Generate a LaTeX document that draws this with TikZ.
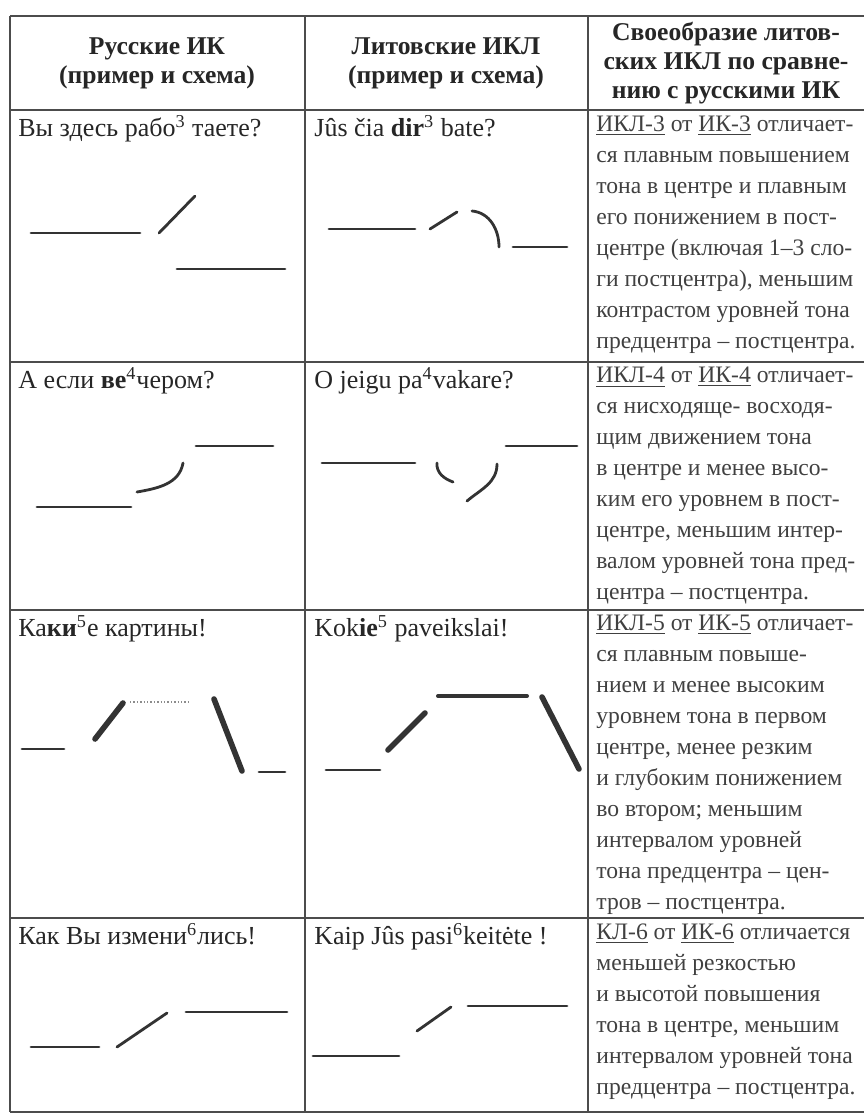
\documentclass[tikz,border=0pt]{standalone}
\usepackage{fontspec}
\setmainfont{Liberation Serif}
\usepackage{xcolor}

\tikzset{
  rule/.style={line width=0.8pt, black!70},
  tone/.style={line width=1.4pt, black!80, line cap=round},
  heavy/.style={line width=2.8pt, black!80, line cap=round},
  faint/.style={line width=0.7pt, black!45, densely dotted},
  head/.style={font=\fontsize{12.8}{14.5}\selectfont\bfseries, align=center, inner sep=0, text=black!85},
  sample/.style={font=\fontsize{13}{15}\selectfont, anchor=north west, inner sep=0, text=black!85},
  note/.style={font=\fontsize{11.8}{15.5}\selectfont, align=left, anchor=north west, inner sep=0, text=black!75},
}

\begin{document}
\begin{tikzpicture}[x=0.5pt, y=0.5pt]
\useasboundingbox (0,0) rectangle (864,-1115);
\fill[white] (0,0) rectangle (864,-1115);

% table lines
\foreach \y in {16,110,362,610,918,1112}
  \draw[rule] (10,-\y) -- (864,-\y);
\foreach \x in {10,305,588}
  \draw[rule] (\x,-16) -- (\x,-1112);

% header
\node[head] (h1) at (157,-63) {Русские ИК\\(пример и схема)};
\node[head] (h2) at (446,-63) {Литовские ИКЛ\\(пример и схема)};
\node[head] (h3) at (726,-63) {Своеобразие литов-\\ских ИКЛ по сравне-\\нию с русскими ИК};

% row 3
\node[sample] (ru3) at (18,-115) {Вы здесь рабо\textsuperscript{3} таете?};
\node[sample] (lt3) at (314,-115) {Jûs čia \textbf{dir}\textsuperscript{3} bate?};
\node[note] (cmp3) at (596,-115) {\underline{ИКЛ-3} от \underline{ИК-3} отличает-\\
ся плавным повышением\\
тона в центре и плавным\\
его понижением в пост-\\
центре (включая 1–3 сло-\\
ги постцентра), меньшим\\
контрастом уровней тона\\
предцентра – постцентра.};
\draw[tone] (31,-233) -- (140,-233);
\draw[tone] (159,-233) -- (195,-196);
\draw[tone] (177,-269) -- (285,-269);
\draw[tone] (329,-229) -- (415,-229);
\draw[tone] (430,-229) -- (457,-212);
\draw[tone] (472,-211) to[out=-5,in=90] (499,-247);
\draw[tone] (513,-247) -- (567,-247);

% row 4
\node[sample] (ru4) at (18,-367) {А если \textbf{ве}\textsuperscript{4}чером?};
\node[sample] (lt4) at (314,-367) {O jeigu pa\textsuperscript{4}vakare?};
\node[note] (cmp4) at (596,-367) {\underline{ИКЛ-4} от \underline{ИК-4} отличает-\\
ся нисходяще- восходя-\\
щим движением тона\\
в центре и менее высо-\\
ким его уровнем в пост-\\
центре, меньшим интер-\\
валом уровней тона пред-\\
центра – постцентра.};
\draw[tone] (37,-507) -- (131,-507);
\draw[tone] (137,-492) to[out=10,in=-100] (183,-463);
\draw[tone] (196,-446) -- (273,-446);
\draw[tone] (322,-463) -- (415,-463);
\draw[tone] (437,-463) to[out=-95,in=160] (453,-482);
\draw[tone] (497,-464) to[out=-90,in=40] (467,-501);
\draw[tone] (506,-446) -- (577,-446);

% row 5
\node[sample] (ru5) at (18,-615) {Ка\textbf{ки}\textsuperscript{5}е картины!};
\node[sample] (lt5) at (314,-615) {Kok\textbf{ie}\textsuperscript{5} paveikslai!};
\node[note] (cmp5) at (596,-615) {\underline{ИКЛ-5} от \underline{ИК-5} отличает-\\
ся плавным повыше-\\
нием и менее высоким\\
уровнем тона в первом\\
центре, менее резким\\
и глубоким понижением\\
во втором; меньшим\\
интервалом уровней\\
тона предцентра – цен-\\
тров – постцентра.};
\draw[tone] (22,-749) -- (64,-749);
\draw[heavy] (95,-739) -- (123,-703);
\draw[faint] (130,-702) -- (189,-702);
\draw[heavy] (214,-699) -- (242,-771);
\draw[tone] (259,-772) -- (285,-772);
\draw[tone] (326,-770) -- (380,-770);
\draw[heavy] (388,-750) -- (425,-713);
\draw[tone, line width=2pt] (438,-696) -- (527,-696);
\draw[heavy] (542,-697) -- (579,-769);

% row 6
\node[sample] (ru6) at (18,-923) {Как Вы измени\textsuperscript{6}лись!};
\node[sample] (lt6) at (314,-923) {Kaip Jûs pasi\textsuperscript{6}keitėte !};
\node[note] (cmp6) at (596,-923) {\underline{КЛ-6} от \underline{ИК-6} отличается\\
меньшей резкостью\\
и высотой повышения\\
тона в центре, меньшим\\
интервалом уровней тона\\
предцентра – постцентра.};
\draw[tone] (31,-1047) -- (99,-1047);
\draw[tone] (117,-1047) -- (167,-1013);
\draw[tone] (186,-1012) -- (287,-1012);
\draw[tone] (313,-1056) -- (399,-1056);
\draw[tone] (417,-1031) -- (451,-1007);
\draw[tone] (468,-1006) -- (567,-1006);
\end{tikzpicture}
\end{document}
